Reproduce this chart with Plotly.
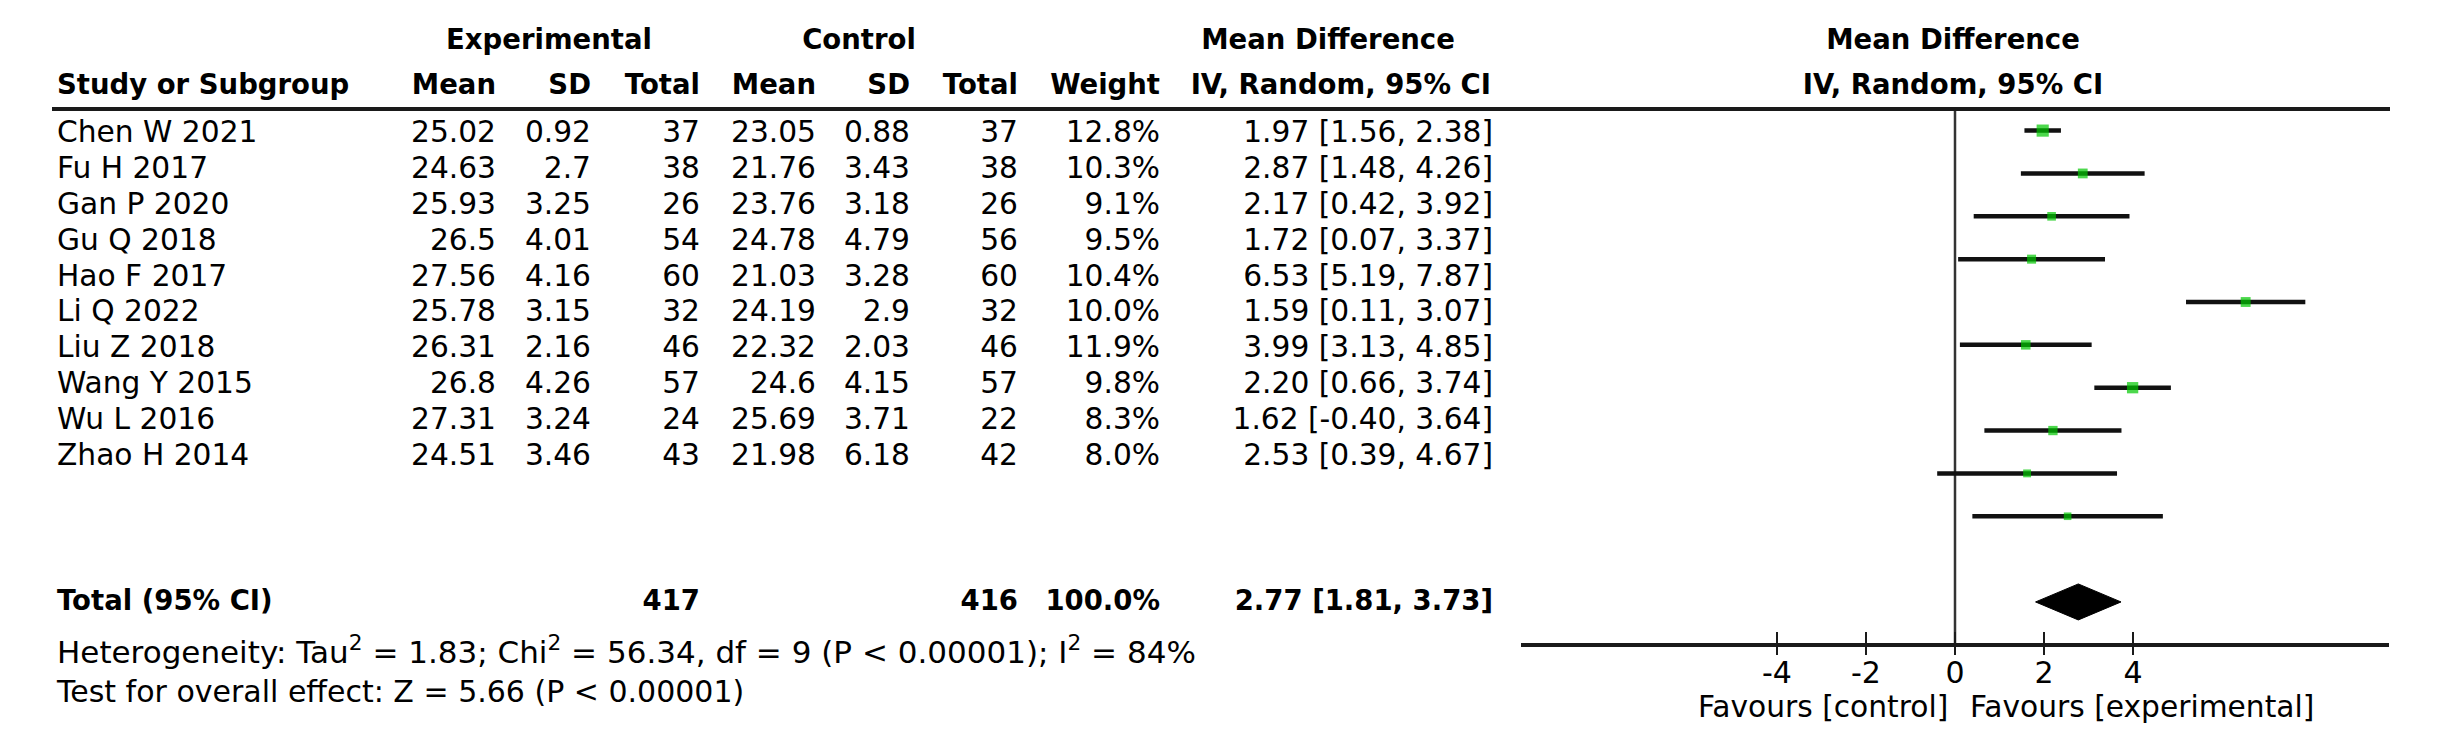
import plotly.graph_objects as go

# ---------------- data ----------------
studies = ["Chen W 2021", "Fu H 2017", "Gan P 2020", "Gu Q 2018", "Hao F 2017",
           "Li Q 2022", "Liu Z 2018", "Wang Y 2015", "Wu L 2016", "Zhao H 2014"]
exp_mean = [25.02, 24.63, 25.93, 26.5, 27.56, 25.78, 26.31, 26.8, 27.31, 24.51]
exp_sd = [0.92, 2.7, 3.25, 4.01, 4.16, 3.15, 2.16, 4.26, 3.24, 3.46]
exp_n = [37, 38, 26, 54, 60, 32, 46, 57, 24, 43]
ctl_mean = [23.05, 21.76, 23.76, 24.78, 21.03, 24.19, 22.32, 24.6, 25.69, 21.98]
ctl_sd = [0.88, 3.43, 3.18, 4.79, 3.28, 2.9, 2.03, 4.15, 3.71, 6.18]
ctl_n = [37, 38, 26, 56, 60, 32, 46, 57, 22, 42]
weight = [12.8, 10.3, 9.1, 9.5, 10.4, 10.0, 11.9, 9.8, 8.3, 8.0]
md = [1.97, 2.87, 2.17, 1.72, 6.53, 1.59, 3.99, 2.20, 1.62, 2.53]
ci_lo = [1.56, 1.48, 0.42, 0.07, 5.19, 0.11, 3.13, 0.66, -0.40, 0.39]
ci_hi = [2.38, 4.26, 3.92, 3.37, 7.87, 3.07, 4.85, 3.74, 3.64, 4.67]

total_exp_n = 417
total_ctl_n = 416
total_weight = 100.0
total_md = 2.77
total_lo = 1.81
total_hi = 3.73

tau2, chi2, df, p_het, i2 = 1.83, 56.34, 9, "P < 0.00001", 84
z_val, p_z = 5.66, "P < 0.00001"

tick_vals = [-4, -2, 0, 2, 4]
tick_text = ["-4", "-2", "0", "2", "4"]

# ---------------- layout parameters (pixels) ----------------
W, H = 2449, 753
FONT = "DejaVu Sans"
REG = 29.7
BOLD = 27.5
col = dict(name=49, exp_mean=488, exp_sd=583, exp_n=692, ctl_mean=808,
           ctl_sd=902, ctl_n=1010, weight=1152, ci=1485)
row0, row_step = 127, 35.8
y_total, y_het, y_test = 595, 647, 686
y_head1, y_head2 = 34, 79
y_rule = 101
# forest panel
fx_left, fx_right = 1513, 2381
f_range = [-9.75, 9.75]
f_row0, f_step = 122.6, 42.85          # pixel of study 0 and step between studies
axis_px = 637
favour_px = 698

n = len(studies)
row_y = [row0 + i * row_step for i in range(n)]

fig = go.Figure()


def text_col(xpos, ys, texts, pos, bold=False, size=None):
    if not isinstance(xpos, list):
        xpos = [xpos] * len(ys)
    fig.add_trace(go.Scatter(
        x=xpos, y=ys, text=texts, mode="text",
        textposition=pos, xaxis="x2", yaxis="y", cliponaxis=False,
        hoverinfo="skip",
        textfont=dict(family=FONT, size=size or (BOLD if bold else REG), color="black",
                      weight="bold" if bold else "normal")))


def g(v):
    return f"{v:g}"


text_col(col["name"], row_y, studies, "middle right")
text_col(col["exp_mean"], row_y, [g(v) for v in exp_mean], "middle left")
text_col(col["exp_sd"], row_y, [g(v) for v in exp_sd], "middle left")
text_col(col["exp_n"], row_y, [str(v) for v in exp_n], "middle left")
text_col(col["ctl_mean"], row_y, [g(v) for v in ctl_mean], "middle left")
text_col(col["ctl_sd"], row_y, [g(v) for v in ctl_sd], "middle left")
text_col(col["ctl_n"], row_y, [str(v) for v in ctl_n], "middle left")
text_col(col["weight"], row_y, [f"{w:.1f}%" for w in weight], "middle left")
text_col(col["ci"], row_y,
         [f"{m:.2f} [{l:.2f}, {h:.2f}]" for m, l, h in zip(md, ci_lo, ci_hi)],
         "middle left")

# Total row
text_col(col["name"], [y_total], ["Total (95% CI)"], "middle right", bold=True)
text_col(col["exp_n"], [y_total], [str(total_exp_n)], "middle left", bold=True)
text_col(col["ctl_n"], [y_total], [str(total_ctl_n)], "middle left", bold=True)
text_col(col["weight"], [y_total], [f"{total_weight:.1f}%"], "middle left", bold=True)
text_col(col["ci"], [y_total], [f"{total_md:.2f} [{total_lo:.2f}, {total_hi:.2f}]"],
         "middle left", bold=True)

# Heterogeneity / overall effect
text_col(col["name"], [y_het],
         [f"Heterogeneity: Tau<sup>2</sup> = {tau2:.2f}; Chi<sup>2</sup> = {chi2:.2f}, "
          f"df = {df} ({p_het}); I<sup>2</sup> = {i2}%"], "middle right", size=31)
text_col(col["name"], [y_test],
         [f"Test for overall effect: Z = {z_val:.2f} ({p_z})"], "middle right", size=30)

# Headers (bold)
text_col([541, 851, 1320, 1945], [y_head1] * 4,
         ["Experimental", "Control", "Mean Difference", "Mean Difference"],
         "middle center", bold=True)
text_col(col["name"], [y_head2], ["Study or Subgroup"], "middle right", bold=True)
text_col([col["exp_mean"], col["exp_sd"], col["exp_n"], col["ctl_mean"], col["ctl_sd"],
          col["ctl_n"], col["weight"], 1483], [y_head2] * 8,
         ["Mean", "SD", "Total", "Mean", "SD", "Total", "Weight", "IV, Random, 95% CI"],
         "middle left", bold=True)
text_col(1945, [y_head2], ["IV, Random, 95% CI"], "middle center", bold=True)

# Favours labels
annotations = [
    dict(text="Favours [control]", x=0, y=favour_px, xref="x", yref="y",
         xanchor="right", yanchor="middle", xshift=-6, showarrow=False,
         borderpad=0, font=dict(family=FONT, size=REG, color="black")),
    dict(text="Favours [experimental]", x=0, y=favour_px, xref="x", yref="y",
         xanchor="left", yanchor="middle", xshift=14, showarrow=False,
         borderpad=0, font=dict(family=FONT, size=REG, color="black")),
]

# ---------------- forest panel ----------------
study_idx = list(range(n))
fig.add_trace(go.Scatter(
    x=md, y=study_idx, xaxis="x", yaxis="y2", mode="markers", hoverinfo="skip",
    marker=dict(symbol="square", size=[w * 0.95 for w in weight], color="#00c800",
                line=dict(width=0)),
    error_x=dict(type="data", symmetric=False,
                 array=[h - m for h, m in zip(ci_hi, md)],
                 arrayminus=[m - l for m, l in zip(md, ci_lo)],
                 width=0, thickness=4.5, color="#111111")))

total_idx = n + 1
half_h = 18 / f_step
fig.add_trace(go.Scatter(
    x=[total_lo, total_md, total_hi, total_md, total_lo],
    y=[total_idx, total_idx - half_h, total_idx, total_idx + half_h, total_idx],
    xaxis="x", yaxis="y2", mode="lines", fill="toself", fillcolor="black",
    line=dict(color="black", width=1), hoverinfo="skip"))

# invisible trace for the lower tick axis
fig.add_trace(go.Scatter(x=[0], y=[0], xaxis="x3", yaxis="y2", mode="markers",
                         marker=dict(opacity=0), hoverinfo="skip"))

axis_y_idx = (axis_px - f_row0) / f_step
rule_idx = (y_rule - f_row0) / f_step

shapes = [
    dict(type="line", xref="paper", yref="y", x0=44 / W, x1=2382 / W, y0=y_rule, y1=y_rule,
         line=dict(color="#1a1a1a", width=4)),
    dict(type="line", xref="x", yref="y2", x0=0, x1=0, y0=rule_idx, y1=axis_y_idx,
         line=dict(color="#333333", width=2.5), layer="below"),
]

axis_pos = 1 - axis_px / H
fdom = [fx_left / W, fx_right / W]

fig.update_layout(
    width=W, height=H, margin=dict(l=0, r=0, t=0, b=0),
    paper_bgcolor="white", plot_bgcolor="rgba(0,0,0,0)", showlegend=False,
    font=dict(family=FONT, color="black"),
    xaxis2=dict(domain=[0, 1], range=[0, W], anchor="y", visible=False, fixedrange=True),
    yaxis=dict(domain=[0, 1], range=[H, 0], anchor="x2", visible=False, fixedrange=True),
    xaxis=dict(domain=fdom, range=f_range, anchor="free", position=axis_pos,
               showline=True, linewidth=4, linecolor="#1a1a1a", showgrid=False,
               zeroline=False, ticks="inside", ticklen=11, tickwidth=2,
               tickcolor="#1a1a1a", tickvals=tick_vals, ticktext=tick_text,
               tickfont=dict(family=FONT, size=30, color="black"), fixedrange=True),
    xaxis3=dict(domain=fdom, range=f_range, anchor="free", position=axis_pos,
                overlaying="x", showline=False, showgrid=False, zeroline=False,
                ticks="outside", ticklen=9, tickwidth=2, tickcolor="#1a1a1a",
                tickvals=tick_vals, showticklabels=False, fixedrange=True),
    yaxis2=dict(domain=[0, 1], range=[(H - f_row0) / f_step, -f_row0 / f_step],
                anchor="free", position=0, visible=False, fixedrange=True),
    shapes=shapes, annotations=annotations,
)

fig.write_html("out.html")
